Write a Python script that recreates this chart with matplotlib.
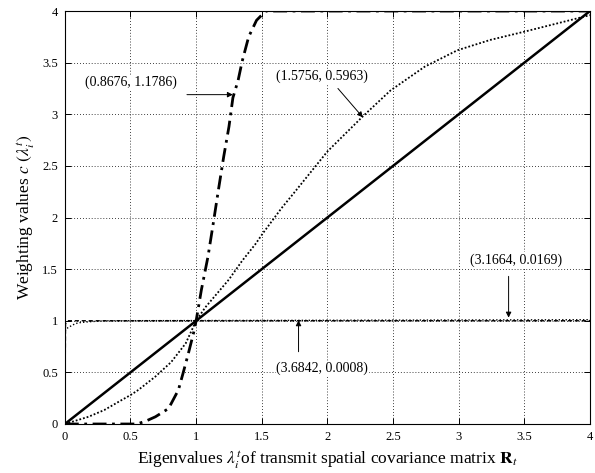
import numpy as np
import matplotlib.pyplot as plt

plt.rcParams['font.family'] = ['Liberation Serif', 'DejaVu Serif']
plt.rcParams['mathtext.fontset'] = 'stix'

# Кривые весовой функции c(lambda) для разных параметров
lam_lin = [0.0, 4.0]
c_lin = [0.0, 4.0]

lam_a = [0, 0.55, 0.62, 0.69, 0.79, 0.865, 0.90, 0.94, 0.98, 1.0, 1.04, 1.09, 1.13,
         1.17, 1.21, 1.25, 1.28, 1.32, 1.35, 1.40, 1.46, 1.53, 4.0]
c_a = [0, 0, 0.03, 0.07, 0.15, 0.33, 0.49, 0.68, 0.88, 1.0, 1.30, 1.62, 1.94,
       2.27, 2.59, 2.88, 3.16, 3.33, 3.51, 3.75, 3.91, 4.0, 4.0]

lam_b = [0, 0.18, 0.30, 0.43, 0.50, 0.56, 0.69, 0.81, 0.92, 1.0, 1.07, 1.17, 1.25, 1.35,
         1.45, 1.51, 1.58, 1.65, 1.74, 2.0, 2.27, 2.48, 2.74, 2.99, 3.24, 3.50, 3.75, 4.0]
c_b = [0, 0.07, 0.135, 0.23, 0.28, 0.33, 0.46, 0.60, 0.78, 1.0, 1.13, 1.28, 1.40, 1.58,
       1.74, 1.85, 1.97, 2.09, 2.23, 2.64, 2.98, 3.23, 3.46, 3.62, 3.72, 3.80, 3.88, 3.96]

lam_c = [0, 0.02, 0.06, 0.10, 0.18, 0.30, 4.0]
c_c = [0.90, 0.93, 0.96, 0.98, 0.99, 1.0, 1.01]

lam_d = [0, 0.005, 0.02, 4.0]
c_d = [0, 0.97, 1.0, 1.0]

# Подписи параметров: текст и точка, куда указывает стрелка
labels = ['(0.8676, 1.1786)', '(1.5756, 0.5963)', '(3.1664, 0.0169)', '(3.6842, 0.0008)']
text_xy = [(0.50, 3.31), (1.96, 3.37), (3.435, 1.59), (1.96, 0.54)]
arrow_from = [(0.93, 3.19), (2.08, 3.25), (3.38, 1.43), (1.78, 0.70)]
arrow_to = [(1.28, 3.19), (2.27, 2.97), (3.38, 1.03), (1.78, 1.005)]

fig = plt.figure(figsize=(5.95, 4.73), dpi=100)
ax = fig.add_axes([0.109, 0.1036, 0.8826, 0.8731])

ax.plot(lam_lin, c_lin, color='k', lw=1.8, solid_capstyle='butt')
ax.plot(lam_a, c_a, color='k', lw=2.0, dashes=(5, 2, 1, 2))
ax.plot(lam_b, c_b, color='k', lw=1.3, dashes=(1, 1.1))
ax.plot(lam_c, c_c, color='k', lw=1.0, dashes=(1, 1.5))
ax.plot(lam_d, c_d, color='k', lw=1.0, dashes=(3, 2))

for s, t, a0, a1 in zip(labels, text_xy, arrow_from, arrow_to):
    ax.text(t[0], t[1], s, fontsize=10, ha='center', va='center',
            bbox=dict(facecolor='white', edgecolor='none', pad=0.5))
    ax.annotate('', xy=a1, xytext=a0,
                arrowprops=dict(arrowstyle='-|>', color='k', lw=0.7,
                                mutation_scale=8, shrinkA=0, shrinkB=0))

ax.set_xlim(0, 4)
ax.set_ylim(0, 4)
ax.set_xticks(np.arange(0, 4.01, 0.5))
ax.set_yticks(np.arange(0, 4.01, 0.5))
ax.set_xticklabels(['0', '0.5', '1', '1.5', '2', '2.5', '3', '3.5', '4'])
ax.set_yticklabels(['0', '0.5', '1', '1.5', '2', '2.5', '3', '3.5', '4'])
ax.tick_params(direction='in', top=True, right=True, labelsize=9, length=4, width=0.7, pad=5)
ax.grid(True, color='k', lw=0.6, dashes=(1, 2.5))
for sp in ax.spines.values():
    sp.set_linewidth(0.8)

ax.set_xlabel(r'Eigenvalues $\lambda_i^t$of transmit spatial covariance matrix $\mathbf{R}_t$',
              fontsize=12.5, labelpad=4)
ax.set_ylabel(r'Weighting values $c\ (\lambda_i^t)$', fontsize=12.5, labelpad=4)

fig.savefig('out.png', dpi=100)
